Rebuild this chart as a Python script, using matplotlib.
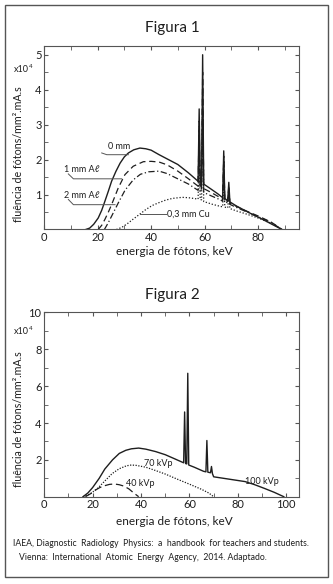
import matplotlib
matplotlib.use("Agg")
import matplotlib.pyplot as plt
from matplotlib.patches import Rectangle

plt.rcParams['font.family'] = ['Lato', 'DejaVu Sans']

INK = '#1e1e1e'
GREY = '#555555'

# Figura 1 -- espectros com filtracao (x10^4)
e_0mm = [15.5, 17, 18.5, 20.2, 21.5, 22.7, 24, 25.2, 26.8, 28.4, 30, 31.5, 33.5, 35.8, 38, 40,
         43, 46, 50, 54, 57.6, 58.0, 58.4, 58.9, 59.3, 59.7, 62, 65, 66.8, 67.2, 67.6,
         68.7, 69.1, 69.5, 72, 75, 78, 81, 84, 87, 89]
v_0mm = [0, 0.04, 0.15, 0.33, 0.55, 0.81, 1.1, 1.38, 1.66, 1.9, 2.08, 2.19, 2.28, 2.33, 2.31, 2.27,
         2.14, 2.02, 1.86, 1.62, 1.38, 3.45, 1.37, 1.35, 5.0, 1.3, 1.18, 1.02, 0.91, 2.25, 0.89,
         0.82, 1.35, 0.79, 0.67, 0.55, 0.43, 0.32, 0.2, 0.08, 0]

e_1al = [20.2, 21.5, 22.7, 24, 25.2, 27.7, 30.2, 33.3, 37.1, 40, 43, 46, 50, 54, 57.6, 58.0, 58.4,
         58.9, 59.3, 59.7, 62, 65, 66.8, 67.2, 67.6, 68.7, 69.1, 69.5, 72, 75, 80, 85, 89]
v_1al = [0, 0.12, 0.29, 0.5, 0.71, 1.19, 1.57, 1.81, 1.94, 1.95, 1.93, 1.85, 1.67, 1.45, 1.24, 3.1,
         1.23, 1.21, 4.5, 1.17, 1.08, 0.95, 0.86, 2.1, 0.85, 0.8, 1.25, 0.76, 0.66, 0.55, 0.39, 0.21, 0]

e_2al = [22.5, 24, 25.2, 27.7, 30.2, 33.3, 36, 39, 43, 46, 50, 54, 57.6, 58.0, 58.4, 58.9, 59.3,
         59.7, 62, 65, 66.8, 67.2, 67.6, 68.7, 69.1, 69.5, 72, 75, 80, 85, 89]
v_2al = [0, 0.2, 0.38, 0.76, 1.12, 1.42, 1.58, 1.65, 1.67, 1.6, 1.45, 1.3, 1.12, 2.8, 1.11, 1.1,
         4.05, 1.06, 0.98, 0.88, 0.81, 1.95, 0.8, 0.76, 1.15, 0.72, 0.63, 0.53, 0.37, 0.2, 0]

e_cu = [27, 29, 31, 33, 35.6, 38, 40.5, 43, 45.4, 48, 51.6, 54, 57.6, 58.0, 58.4, 58.9, 59.3, 59.7,
        63, 66, 66.8, 67.2, 67.6, 68.7, 69.1, 69.5, 72, 75, 80, 85, 89]
v_cu = [0, 0.06, 0.16, 0.28, 0.43, 0.57, 0.69, 0.77, 0.84, 0.89, 0.92, 0.91, 0.87, 2.2, 0.86, 0.85,
        3.15, 0.8, 0.72, 0.66, 0.65, 1.6, 0.64, 0.62, 1.0, 0.6, 0.53, 0.46, 0.33, 0.18, 0]

# Figura 2 -- espectros por kVp (x10^4)
e_100 = [16, 18, 20, 22.7, 25, 28.2, 31, 33.7, 36, 39, 42, 46, 50, 54, 57.6, 58.0, 58.4, 58.9, 59.3,
         59.7, 62, 65.8, 66.8, 67.2, 67.6, 68.7, 69.1, 69.5, 70, 75, 80, 83, 87, 91, 95, 99]
v_100 = [0, 0.2, 0.5, 1.0, 1.5, 2.0, 2.35, 2.52, 2.6, 2.64, 2.58, 2.45, 2.28, 2.05, 1.84, 4.6, 1.8,
         1.78, 6.7, 1.72, 1.6, 1.38, 1.35, 3.05, 1.33, 1.3, 1.64, 1.25, 1.08, 0.98, 0.88, 0.82, 0.65,
         0.45, 0.24, 0]

e_70 = [16, 19, 22, 25, 28, 31, 34, 36, 38, 42, 46, 50, 55, 60, 65, 68, 70]
v_70 = [0, 0.15, 0.45, 0.85, 1.25, 1.52, 1.68, 1.72, 1.7, 1.6, 1.42, 1.23, 0.95, 0.68, 0.4, 0.2, 0]

e_40 = [17, 19, 21, 23, 25, 27, 29, 31, 33, 35, 37, 39]
v_40 = [0, 0.15, 0.35, 0.5, 0.6, 0.67, 0.69, 0.65, 0.57, 0.42, 0.2, 0]

x_ticks_1 = [0, 20, 40, 60, 80]
y_ticks_1 = [1, 2, 3, 4, 5]
x_ticks_2 = [0, 20, 40, 60, 80, 100]
y_ticks_2 = [2, 4, 6, 8, 10]

W, H = 333, 584
fig = plt.figure(figsize=(W / 100, H / 100), dpi=100)
fig.patch.set_facecolor('white')


def fx(px):
    return px / W


def fy(py):
    return 1 - py / H


fig.add_artist(Rectangle((fx(5), fy(577)), fx(323), 572 / H, transform=fig.transFigure,
                         fill=False, edgecolor=GREY, linewidth=1.0))


def style_axes(ax, xt, yt, xminor, yminor):
    for s in ax.spines.values():
        s.set_color(GREY)
        s.set_linewidth(0.8)
    ax.set_xticks(xt)
    ax.set_yticks(yt)
    ax.set_xticks(xminor, minor=True)
    ax.set_yticks(yminor, minor=True)
    ax.tick_params(which='both', direction='in', top=True, right=True, color=GREY,
                   labelsize=8, labelcolor=INK, pad=2)
    ax.tick_params(which='major', length=3)
    ax.tick_params(which='minor', length=3)


# ---------- Figura 1 ----------
ax1 = fig.add_axes([fx(44.3), fy(229.5), fx(255), 183.5 / H])
ax1.plot(e_0mm, v_0mm, color=INK, lw=1.0)
ax1.plot(e_1al, v_1al, color=INK, lw=0.9, dashes=(5, 3))
ax1.plot(e_2al, v_2al, color=INK, lw=0.9, dashes=(5, 2, 1, 2))
ax1.plot(e_cu, v_cu, color=INK, lw=0.9, dashes=(1, 1.5))
ax1.set_xlim(0, 95.5)
ax1.set_ylim(0, 5.25)
style_axes(ax1, x_ticks_1, y_ticks_1, list(range(10, 100, 10)),
           [0.5, 1.5, 2.5, 3.5, 4.5])

lab = dict(fontsize=6.5, color=INK, ha='center', va='center')
ax1.text(28.0, 2.38, '0 mm', **lab)
ax1.plot([21.5, 23.4, 31.5], [2.19, 2.14, 2.14], color=GREY, lw=0.7)
ax1.text(14.0, 1.71, '1 mm A\u2113', **lab)
ax1.plot([9.0, 10.9, 29.0], [1.59, 1.45, 1.45], color=GREY, lw=0.7)
ax1.text(14.0, 0.97, '2 mm A\u2113', **lab)
ax1.plot([9.0, 10.9, 26.5], [0.86, 0.71, 0.71], color=GREY, lw=0.7)
ax1.text(46.0, 0.43, '0,3 mm Cu', fontsize=6.5, color=INK, ha='left', va='center')
ax1.plot([35.8, 45.6], [0.43, 0.43], color=GREY, lw=0.7)

fig.text(fx(172), fy(28), 'Figura 1', fontsize=11, color=INK, ha='center', va='center')
fig.text(fx(174), fy(252), 'energia de fótons, keV', fontsize=8.5, color=INK,
         ha='center', va='center')
fig.text(fx(19), fy(154), 'fluência de fótons/mm².mA.s', fontsize=7.7, color=INK,
         rotation=90, ha='center', va='center')
fig.text(fx(14), fy(70), 'x10', fontsize=6.5, color=INK, ha='left', va='center')
fig.text(fx(29), fy(66), '4', fontsize=4.5, color=INK, ha='left', va='center')

# ---------- Figura 2 ----------
ax2 = fig.add_axes([fx(44.3), fy(496.7), fx(255), 184.2 / H])
ax2.plot(e_100, v_100, color=INK, lw=1.0)
ax2.plot(e_70, v_70, color=INK, lw=0.9, dashes=(1, 1.2))
ax2.plot(e_40, v_40, color=INK, lw=0.9, dashes=(6, 3))
ax2.set_xlim(0, 105.4)
ax2.set_ylim(0, 10)
style_axes(ax2, x_ticks_2, y_ticks_2, list(range(10, 110, 10)), [1, 3, 5, 7, 9])

ax2.text(47.1, 1.82, '70 kVp', **lab)
ax2.text(39.8, 0.73, '40 kVp', **lab)
ax2.text(89.8, 0.82, '100 kVp', **lab)

fig.text(fx(172), fy(295), 'Figura 2', fontsize=11, color=INK, ha='center', va='center')
fig.text(fx(174), fy(521.7), 'energia de fótons, keV', fontsize=8.5, color=INK,
         ha='center', va='center')
fig.text(fx(19), fy(419), 'fluência de fótons/mm².mA.s', fontsize=7.7, color=INK,
         rotation=90, ha='center', va='center')
fig.text(fx(14), fy(332), 'x10', fontsize=6.5, color=INK, ha='left', va='center')
fig.text(fx(29), fy(328), '4', fontsize=4.5, color=INK, ha='left', va='center')

fig.text(fx(13), fy(544), 'IAEA, Diagnostic  Radiology  Physics:  a  handbook  for teachers and students.',
         fontsize=6.2, color=INK, ha='left', va='center')
fig.text(fx(19), fy(557), 'Vienna:  International  Atomic  Energy  Agency,  2014. Adaptado.',
         fontsize=6.2, color=INK, ha='left', va='center')

fig.savefig('out.png', dpi=100, facecolor='white')
